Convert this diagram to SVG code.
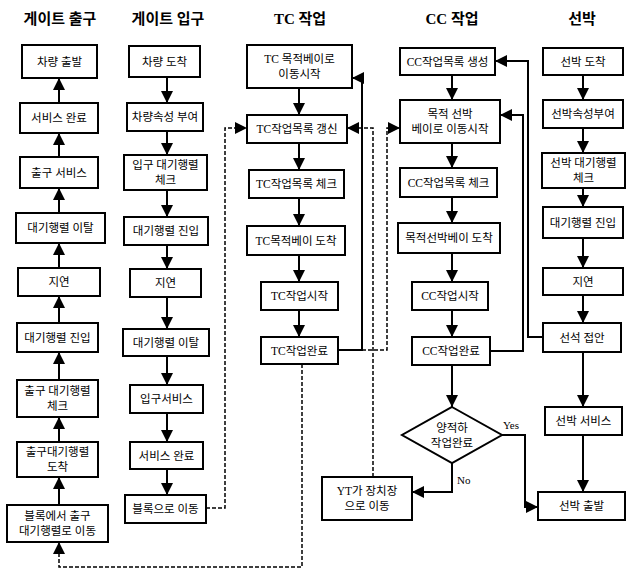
<svg xmlns="http://www.w3.org/2000/svg" width="627" height="571" viewBox="0 0 627 571">
<style>
.b{fill:#fff;stroke:#000;stroke-width:2}
.t{font-family:"Liberation Serif","Noto Sans CJK KR",serif;font-size:11.5px;text-anchor:middle;fill:#000}
.h{font-family:"Liberation Serif","Noto Sans CJK KR",serif;font-size:15px;font-weight:bold;text-anchor:middle;fill:#000}
.c{stroke:#000;stroke-width:2;fill:none}
.d{stroke:#000;stroke-width:1.5;stroke-dasharray:4 2;fill:none}
.l{font-family:"Liberation Serif",serif;font-size:11px;fill:#000}
</style>
<defs>
<marker id="a" markerUnits="userSpaceOnUse" markerWidth="12" markerHeight="12" viewBox="0 0 11 11" refX="11" refY="5.5" orient="auto">
<path d="M0,0 L11,5.5 L0,11 z" fill="#000"/>
</marker>
</defs>
<rect width="627" height="571" fill="#fff"/>
<g id="titles">
<text class="h" x="60" y="24">게이트 출구</text>
<text class="h" x="168" y="24">게이트 입구</text>
<text class="h" x="300" y="24">TC 작업</text>
<text class="h" x="452" y="24">CC 작업</text>
<text class="h" x="582" y="24">선박</text>
</g>
<g id="connectors">
<g class="c" marker-end="url(#a)">
<path d="M59,103 V78"/><path d="M59,157 V133"/><path d="M59,213 V188"/><path d="M59,268 V243"/><path d="M59,323 V296"/><path d="M59,380 V352"/><path d="M59,442 V417"/><path d="M59,505 V477"/>
<path d="M167,77 V103"/><path d="M167,131 V155"/><path d="M167,190 V217"/><path d="M167,245 V269"/><path d="M167,297 V329"/><path d="M167,356 V385"/><path d="M167,413 V442"/><path d="M167,469 V495"/>
<path d="M299,88 V115"/><path d="M299,143 V170"/><path d="M299,198 V226"/><path d="M299,255 V282"/><path d="M299,310 V337"/>
<path d="M452,75 V100"/><path d="M452,143 V168"/><path d="M452,197 V223"/><path d="M452,253 V282"/><path d="M452,310 V337"/><path d="M452,365 V407"/>
<path d="M583,75 V100"/><path d="M583,128 V153"/><path d="M583,188 V207"/><path d="M583,238 V268"/><path d="M583,295 V323"/><path d="M583,352 V407"/><path d="M583,435 V492"/>
<path d="M338,350 H362 V78 H352"/>
<path d="M490,351 H523 V115 H500"/>
<path d="M543,337 H528 V61 H495"/>
<path d="M502,435 H525 V507 H538"/>
<path d="M452,463 V492 H412"/>
</g>
<g class="d" marker-end="url(#a)">
<path d="M362,350 H387 V128 H400"/>
<path d="M373,477 V128 H347"/>
<path d="M206,508 H225 V128 H247"/>
<path d="M302,364 V567 H59 V542"/>
</g>
<text class="l" x="503" y="429">Yes</text>
<text class="l" x="457" y="484">No</text>
</g>
<g id="go1"><rect class="b" x="22" y="45" width="75" height="33"/><text class="t" x="59.5" y="65.5">차량 출발</text></g>
<g id="go2"><rect class="b" x="20" y="103" width="78" height="30"/><text class="t" x="59" y="122">서비스 완료</text></g>
<g id="go3"><rect class="b" x="20" y="157" width="78" height="31"/><text class="t" x="59" y="176.5">출구 서비스</text></g>
<g id="go4"><rect class="b" x="16" y="213" width="89" height="30"/><text class="t" x="60.5" y="232">대기행렬 이탈</text></g>
<g id="go5"><rect class="b" x="18" y="268" width="82" height="28"/><text class="t" x="59" y="286">지연</text></g>
<g id="go6"><rect class="b" x="17" y="323" width="81" height="29"/><text class="t" x="57.5" y="341.5">대기행렬 진입</text></g>
<g id="go7"><rect class="b" x="17" y="380" width="81" height="37"/><text class="t" x="57.5" y="395">출구 대기행렬</text><text class="t" x="57.5" y="410">체크</text></g>
<g id="go8"><rect class="b" x="17" y="442" width="81" height="35"/><text class="t" x="57.5" y="456">출구대기행렬</text><text class="t" x="57.5" y="471">도착</text></g>
<g id="go9"><rect class="b" x="7" y="505" width="101" height="37"/><text class="t" x="57.5" y="520">블록에서 출구</text><text class="t" x="57.5" y="535">대기행렬로 이동</text></g>
<g id="gi1"><rect class="b" x="129" y="46" width="71" height="31"/><text class="t" x="164.5" y="65.5">차량 도착</text></g>
<g id="gi2"><rect class="b" x="127" y="103" width="76" height="28"/><text class="t" x="165" y="121">차량속성 부여</text></g>
<g id="gi3"><rect class="b" x="124" y="155" width="83" height="35"/><text class="t" x="165.5" y="169">입구 대기행렬</text><text class="t" x="165.5" y="184">체크</text></g>
<g id="gi4"><rect class="b" x="124" y="217" width="84" height="28"/><text class="t" x="166" y="235">대기행렬 진입</text></g>
<g id="gi5"><rect class="b" x="130" y="269" width="71" height="28"/><text class="t" x="165.5" y="287">지연</text></g>
<g id="gi6"><rect class="b" x="123" y="329" width="86" height="27"/><text class="t" x="166" y="346.5">대기행렬 이탈</text></g>
<g id="gi7"><rect class="b" x="130" y="385" width="73" height="28"/><text class="t" x="166.5" y="403">입구서비스</text></g>
<g id="gi8"><rect class="b" x="130" y="442" width="73" height="27"/><text class="t" x="166.5" y="459.5">서비스 완료</text></g>
<g id="gi9"><rect class="b" x="125" y="495" width="81" height="28"/><text class="t" x="165.5" y="513">블록으로 이동</text></g>
<g id="tc1"><rect class="b" x="247" y="45" width="105" height="43"/><text class="t" x="299.5" y="63">TC 목적베이로</text><text class="t" x="299.5" y="78">이동시작</text></g>
<g id="tc2"><rect class="b" x="247" y="115" width="100" height="28"/><text class="t" x="297" y="133">TC작업목록 갱신</text></g>
<g id="tc3"><rect class="b" x="249" y="170" width="95" height="28"/><text class="t" x="296.5" y="188">TC작업목록 체크</text></g>
<g id="tc4"><rect class="b" x="247" y="226" width="98" height="29"/><text class="t" x="296" y="244.5">TC목적베이 도착</text></g>
<g id="tc5"><rect class="b" x="261" y="282" width="77" height="28"/><text class="t" x="299.5" y="300">TC작업시작</text></g>
<g id="tc6"><rect class="b" x="261" y="337" width="77" height="27"/><text class="t" x="299.5" y="354.5">TC작업완료</text></g>
<g id="cc1"><rect class="b" x="400" y="48" width="95" height="27"/><text class="t" x="447.5" y="65.5">CC작업목록 생성</text></g>
<g id="cc2"><rect class="b" x="400" y="100" width="100" height="43"/><text class="t" x="450" y="118">목적 선박</text><text class="t" x="450" y="133">베이로 이동시작</text></g>
<g id="cc3"><rect class="b" x="400" y="168" width="97" height="29"/><text class="t" x="448.5" y="186.5">CC작업목록 체크</text></g>
<g id="cc4"><rect class="b" x="398" y="223" width="102" height="30"/><text class="t" x="449" y="242">목적선박베이 도착</text></g>
<g id="cc5"><rect class="b" x="412" y="282" width="76" height="28"/><text class="t" x="450" y="300">CC작업시작</text></g>
<g id="cc6"><rect class="b" x="412" y="337" width="78" height="28"/><text class="t" x="451" y="355">CC작업완료</text></g>
<g id="cc7"><polygon class="b" points="452,407 502,435 452,463 402,435"/><text class="t" x="452" y="432">양적하</text><text class="t" x="452" y="447">작업완료</text></g>
<g id="yt"><rect class="b" x="322" y="477" width="90" height="43"/><text class="t" x="367" y="495">YT가 장치장</text><text class="t" x="367" y="510">으로 이동</text></g>
<g id="sh1"><rect class="b" x="543" y="48" width="80" height="27"/><text class="t" x="583" y="65.5">선박 도착</text></g>
<g id="sh2"><rect class="b" x="543" y="100" width="80" height="28"/><text class="t" x="583" y="118">선박속성부여</text></g>
<g id="sh3"><rect class="b" x="542" y="153" width="83" height="35"/><text class="t" x="583.5" y="167">선박 대기행렬</text><text class="t" x="583.5" y="182">체크</text></g>
<g id="sh4"><rect class="b" x="543" y="207" width="80" height="31"/><text class="t" x="583" y="226.5">대기행렬 진입</text></g>
<g id="sh5"><rect class="b" x="543" y="268" width="80" height="27"/><text class="t" x="583" y="285.5">지연</text></g>
<g id="sh6"><rect class="b" x="543" y="323" width="78" height="29"/><text class="t" x="582" y="341.5">선석 접안</text></g>
<g id="sh7"><rect class="b" x="545" y="407" width="77" height="28"/><text class="t" x="583.5" y="425">선박 서비스</text></g>
<g id="sh8"><rect class="b" x="538" y="492" width="87" height="28"/><text class="t" x="581.5" y="510">선박 출발</text></g>
</svg>
